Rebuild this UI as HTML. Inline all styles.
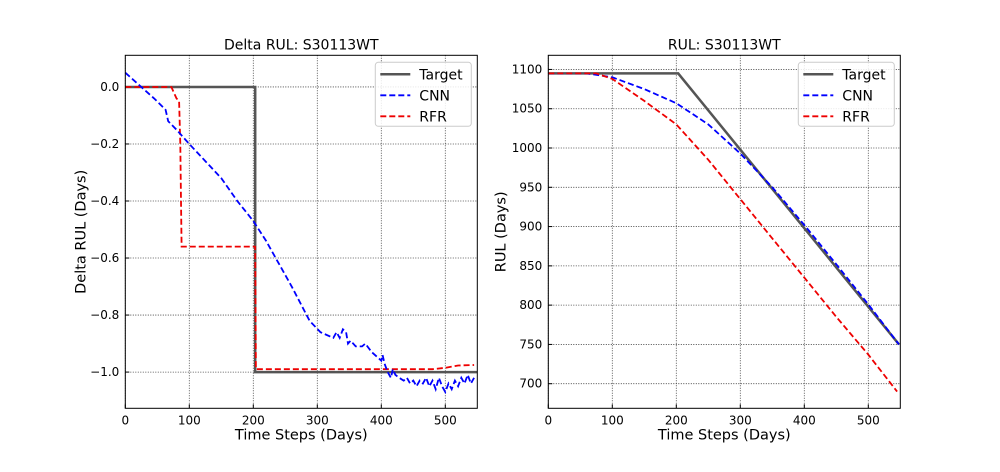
<!DOCTYPE html>
<html><head><meta charset="utf-8"><style>
body{margin:0;background:#fff;font-family:"Liberation Sans","DejaVu Sans",sans-serif}
svg text{font-family:"DejaVu Sans","Liberation Sans",sans-serif}
</style></head><body>
<svg id="c" width="1000" height="467" xmlns="http://www.w3.org/2000/svg"></svg>
<script>
// Left chart data (Delta RUL)
const leftTargetX=[0,203,203,550];
const leftTargetY=[0,0,-1,-1];
const leftRfrX=[0,72,76,80,84,86,87,88,203,204,205,480,500,520,545];
const leftRfrY=[0,0,-0.02,-0.04,-0.05,-0.2,-0.4,-0.56,-0.56,-0.99,-0.99,-0.99,-0.985,-0.977,-0.975];
const leftCnnX=[0,25,45,63,67,80,100,125,150,175,200,220,235,260,288,305,325,330,335,340,345,348,352,360,370,375,385,400,402,405,410,415,418,422,428,435,440,445,450,455,460,465,470,475,480,485,490,495,500,505,510,515,520,525,530,535,540,545];
const leftCnnY=[0.05,0,-0.04,-0.08,-0.12,-0.15,-0.2,-0.26,-0.32,-0.4,-0.47,-0.54,-0.6,-0.7,-0.82,-0.86,-0.88,-0.86,-0.88,-0.85,-0.86,-0.9,-0.89,-0.91,-0.91,-0.9,-0.93,-0.96,-0.94,-0.97,-1.0,-1.02,-0.99,-1.01,-1.02,-1.03,-1.02,-1.04,-1.03,-1.05,-1.03,-1.04,-1.02,-1.05,-1.03,-1.06,-1.02,-1.05,-1.07,-1.04,-1.06,-1.03,-1.05,-1.02,-1.04,-1.01,-1.04,-1.02];
const leftXTicks=[0,100,200,300,400,500];
const leftYTicks=[0,-0.2,-0.4,-0.6,-0.8,-1.0];
// Right chart data (RUL)
const rightTargetX=[0,203,548];
const rightTargetY=[1095,1095,750];
const rightCnnX=[0,60,100,150,200,250,300,350,400,450,500,548];
const rightCnnY=[1095,1095,1090,1075,1057,1030,993,950,902,852,801,750];
const rightRfrX=[0,75,100,150,200,250,300,350,400,450,500,545];
const rightRfrY=[1095,1095,1088,1060,1030,985,935,885,835,785,737,690];
const rightXTicks=[0,100,200,300,400,500];
const rightYTicks=[700,750,800,850,900,950,1000,1050,1100];

const NS="http://www.w3.org/2000/svg",svg=document.getElementById('c');
function mk(t,a,p){const e=document.createElementNS(NS,t);for(const k in a)e.setAttribute(k,a[k]);(p||svg).appendChild(e);return e;}
function axes(o){
  const g=mk('g',{});
  
  
  const sx=v=>o.x0+(v-o.xmin)/(o.xmax-o.xmin)*(o.x1-o.x0);
  const sy=v=>o.y1-(v-o.ymin)/(o.ymax-o.ymin)*(o.y1-o.y0);
  o.xt.forEach(v=>{const x=sx(v);
    const l=mk('line',{x1:x,x2:x,y1:o.y0,y2:o.y1,stroke:'#333','stroke-width':0.8,'stroke-dasharray':'1,1.5'},g);
    
    mk('line',{x1:x,x2:x,y1:o.y1,y2:o.y1-4,stroke:'#000'},g);
    const t=mk('text',{x:x,y:o.y1+16,'font-size':12,'text-anchor':'middle'},g);t.textContent=v;
    });
  o.yt.forEach(v=>{const y=sy(v);
    const l=mk('line',{x1:o.x0,x2:o.x1,y1:y,y2:y,stroke:'#333','stroke-width':0.8,'stroke-dasharray':'1,1.5'},g);
    
    mk('line',{x1:o.x0,x2:o.x0+4,y1:y,y2:y,stroke:'#000'},g);
    const t=mk('text',{x:o.x0-6,y:y+4,'font-size':12,'text-anchor':'end'},g);t.textContent=o.fmt(v);
    });
  const clip='clip'+o.name;const cp=mk('clipPath',{id:clip},g);mk('rect',{x:o.x0,y:o.y0,width:o.x1-o.x0,height:o.y1-o.y0},cp);
  o.series.forEach(s=>{
    const d=s.x.map((v,i)=>(i?'L':'M')+sx(v).toFixed(1)+','+sy(s.y[i]).toFixed(1)).join('');
    const p=mk('path',{d:d,fill:'none',stroke:s.c,'stroke-width':s.w,'stroke-dasharray':s.dash||'none','clip-path':'url(#'+clip+')'},g);
    });
  const fr=mk('rect',{x:o.x0,y:o.y0,width:o.x1-o.x0,height:o.y1-o.y0,fill:'none',stroke:'#000','stroke-width':1},g);
  
  const tt=mk('text',{x:(o.x0+o.x1)/2,y:o.y0-6,'font-size':14,'text-anchor':'middle'},g);tt.textContent=o.title;
  
  const xl=mk('text',{x:(o.x0+o.x1)/2,y:o.y1+31,'font-size':14.5,'text-anchor':'middle'},g);xl.textContent='Time Steps (Days)';
  
  const yx=o.x0-o.ylOff,yy=(o.y0+o.y1)/2;
  const yl=mk('text',{x:yx,y:yy,'font-size':14.5,'text-anchor':'middle',transform:'rotate(-90 '+yx+' '+yy+')'},g);yl.textContent=o.ylabel;
  
  const lg=mk('g',{},g);
  const lx=o.x1-102,ly=o.y0+7;
  mk('rect',{x:lx,y:ly,width:96,height:64,rx:3,fill:'#fff','fill-opacity':0.85,stroke:'#ccc'},lg);
  [['Target','#555',2.5,'none'],['CNN','#00f',1.8,'6,3'],['RFR','#e00',1.8,'6,3']].forEach((e,i)=>{
    const y=ly+12+i*21;
    const en=mk('g',{},lg);
    mk('line',{x1:lx+5,x2:lx+35,y1:y,y2:y,stroke:e[1],'stroke-width':e[2],'stroke-dasharray':e[3]},en);
    const t=mk('text',{x:lx+44,y:y+5,'font-size':14},en);t.textContent=e[0];});
}
axes({name:'delta-rul-plot',x0:125.3,x1:477.3,y0:55.3,y1:408.3,xmin:0,xmax:550,ymin:-1.127,ymax:0.111,
  xt:leftXTicks,yt:leftYTicks,fmt:v=>(v===0?'0.0':'\u2212'+Math.abs(v).toFixed(1)),title:'Delta RUL: S30113WT',ylabel:'Delta RUL (Days)',ylOff:40,
  series:[{n:'target-line',x:leftTargetX,y:leftTargetY,c:'#555',w:2.5},
          {n:'rfr-line',x:leftRfrX,y:leftRfrY,c:'#e00',w:1.8,dash:'6,3'},
          {n:'cnn-line',x:leftCnnX,y:leftCnnY,c:'#00f',w:1.8,dash:'6,3'}]});
axes({name:'rul-plot',x0:548.3,x1:900.3,y0:55.3,y1:408.3,xmin:0,xmax:550,ymin:668.7,ymax:1118,
  xt:rightXTicks,yt:rightYTicks,fmt:v=>v,title:'RUL: S30113WT',ylabel:'RUL (Days)',ylOff:43,
  series:[{n:'target-line',x:rightTargetX,y:rightTargetY,c:'#555',w:2.5},
          {n:'cnn-line',x:rightCnnX,y:rightCnnY,c:'#00f',w:1.8,dash:'6,3'},
          {n:'rfr-line',x:rightRfrX,y:rightRfrY,c:'#e00',w:1.8,dash:'6,3'}]});
</script>
</body></html>
